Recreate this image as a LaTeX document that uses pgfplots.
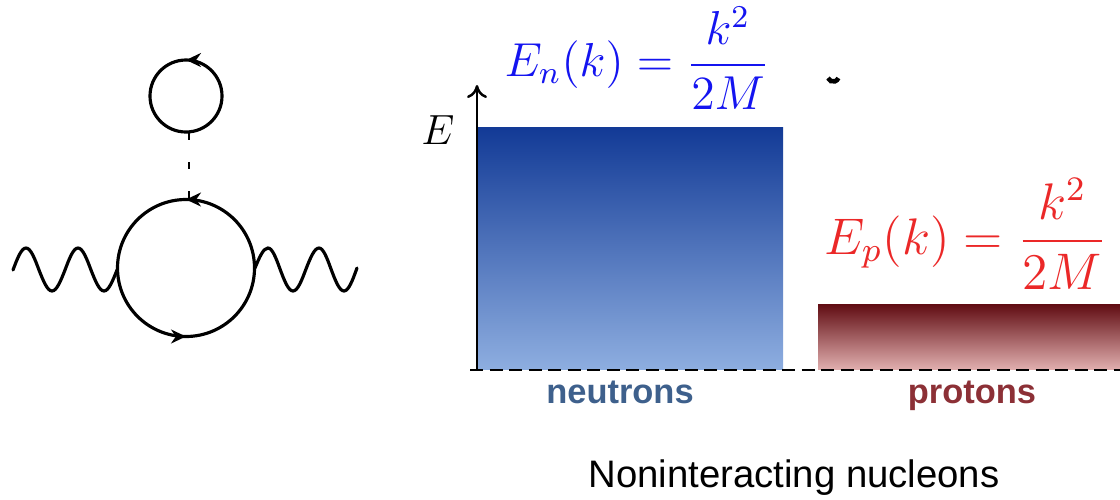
\documentclass[border=0pt]{standalone}
\usepackage{fontspec}
\setmainfont{Liberation Sans}
\usepackage{graphicx}
\usepackage{pgfplots}
\pgfplotsset{compat=1.18}
\usetikzlibrary{arrows.meta,decorations.markings}

\definecolor{nTop}{RGB}{18,58,150}
\definecolor{nMid}{RGB}{72,115,196}
\definecolor{nBot}{RGB}{142,174,224}
\definecolor{pTop}{RGB}{96,12,18}
\definecolor{pMid}{RGB}{176,98,104}
\definecolor{pBot}{RGB}{226,176,176}
\definecolor{nLabel}{RGB}{62,96,140}
\definecolor{pLabel}{RGB}{140,48,54}
\definecolor{eqBlue}{RGB}{20,20,240}
\definecolor{eqRed}{RGB}{235,40,40}

\tikzset{
  prop/.style={line width=0.9pt},
  loopar/.style={postaction={decorate,decoration={markings,
      mark=at position #1 with {\arrow{Stealth[length=1.5mm,width=1.4mm]}}}}},
}

\begin{document}
\begin{tikzpicture}
\begin{axis}[
  at={(0,0)}, anchor=south west,
  scale only axis, width=11.2cm, height=5cm,
  xmin=0, xmax=1120, ymin=-130, ymax=370,
  axis lines=none, clip=false,
]
% Fermi seas of free neutrons and protons (energy above the zero line)
\addplot[draw=none, top color=nTop, middle color=nMid, bottom color=nBot]
  coordinates {(478,243) (783,243)} \closedcycle;
\addplot[draw=none, top color=pTop, middle color=pMid, bottom color=pBot]
  coordinates {(818,66) (1120,66)} \closedcycle;

% zero line and energy axis
\draw[black, line width=0.8pt, dash pattern=on 1.3mm off 0.65mm]
  (axis cs:470,0) -- (axis cs:1120,0);
\draw[black, line width=0.7pt, -{To[length=1.3mm,width=2mm]}]
  (axis cs:477,0) -- (axis cs:477,285);
\node at (axis cs:438,240) {\fontsize{12}{14}\selectfont $E$};

% dispersion relations
\node[text=eqBlue] at (axis cs:637,312)
  {\scalebox{1.13}{\fontsize{12}{14}\selectfont $\displaystyle E_n(k)=\frac{k^2}{2M}$}};
\node[text=eqRed] at (axis cs:966,136)
  {\scalebox{1.22}{\fontsize{12}{14}\selectfont $\displaystyle E_p(k)=\frac{k^2}{2M}$}};
\draw[black, line width=1.3pt] (axis cs:828,292) arc[start angle=200, end angle=340, radius=0.55mm];

% species labels and caption
\node[text=nLabel, font=\fontsize{9.8}{12}\selectfont\bfseries] at (axis cs:620,-22) {neutrons};
\node[text=pLabel, font=\fontsize{9.8}{12}\selectfont\bfseries] at (axis cs:972,-26) {protons};
\node[font=\fontsize{10.9}{13}\selectfont] at (axis cs:794,-108) {Noninteracting nucleons};

% self-energy diagram with a tadpole insertion
\draw[prop, loopar=0.25, loopar=0.75] (axis cs:186,102) circle[radius=6.85mm];
\draw[prop, loopar=0.25] (axis cs:186,274) circle[radius=3.6mm];
\draw[line width=0.7pt, dash pattern=on 0.7mm off 2.2mm] (axis cs:189,237) -- (axis cs:189,170);
% external photon lines
\draw[prop, line cap=round]
  (axis cs:13,100) sin (axis cs:26,122) cos (axis cs:39,100) sin (axis cs:52,79) cos (axis cs:65,100)
  sin (axis cs:78,122) cos (axis cs:91,100) sin (axis cs:104,79) cos (axis cs:117,100);
\draw[prop, line cap=round]
  (axis cs:255,102) sin (axis cs:268,122) cos (axis cs:280,101) sin (axis cs:293,79) cos (axis cs:306,101)
  sin (axis cs:319,122) cos (axis cs:331,101) sin (axis cs:344,79) cos (axis cs:357,102);
\end{axis}
\pgfresetboundingbox
\useasboundingbox (0,0) rectangle (11.2cm,5cm);
\end{tikzpicture}
\end{document}
